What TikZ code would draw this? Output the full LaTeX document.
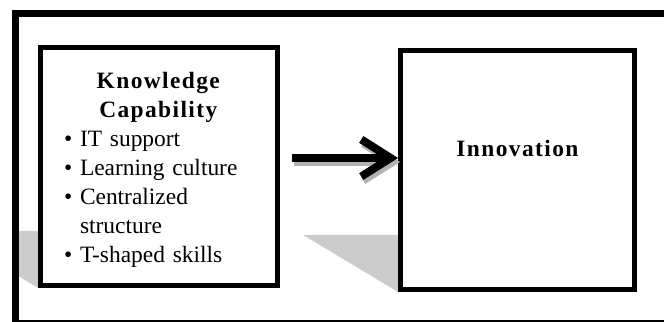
\documentclass[tikz,border=0pt]{standalone}
\usepackage{fontspec}
\setmainfont{Liberation Serif}[BoldFeatures={LetterSpace=6}]
\usepackage{tikz}
\usetikzlibrary{arrows.meta, backgrounds}

\newlength\pxunit
\setlength\pxunit{0.51215pt}

\begin{document}
\begin{tikzpicture}[x=0.018cm, y=-0.018cm,
    box/.style={draw, line width=5\pxunit, inner sep=0pt, fill=white,
        font=\fontsize{12}{14.8}\selectfont},
    shadowfill/.style={fill=black!20},
    flow/.style={line width=8\pxunit, -{Straight Barb[length=15pt, width=19pt]}}]
    % 画布范围
    \path[use as bounding box] (0,0) rectangle (664,322);
    \clip (0,0) rectangle (664,322);

    % 左侧方框:知识能力
    \node[box, minimum width=237\pxunit, minimum height=238\pxunit,
        text width=190\pxunit, align=left] (kc) at (159,166.5) {%
        {\centering\rule{0pt}{23\pxunit}\textbf{Knowledge}\\\textbf{Capability}\par}
        \makebox[16\pxunit][l]{\textbullet}IT support\\
        \makebox[16\pxunit][l]{\textbullet}Learning culture\\
        \makebox[16\pxunit][l]{\textbullet}Centralized\\
        \hspace*{16\pxunit}structure\\
        \makebox[16\pxunit][l]{\textbullet}T-shaped skills};

    % 右侧方框:创新
    \node[box, minimum width=234\pxunit, minimum height=239\pxunit,
        font=\fontsize{12}{14.8}\selectfont\bfseries,
        text height=16\pxunit, text depth=42\pxunit] (inn) at (517.5,170) {Innovation};

    % 方框左下方的阴影
    \begin{scope}[on background layer]
        \clip (15.5,13.5) rectangle (664,322);
        \fill[shadowfill] (kc.south west) -- ++(-95,-57) -- ++(95,0) -- cycle;
        \fill[shadowfill] (inn.south west) -- ++(-95,-57) -- ++(95,0) -- cycle;
    \end{scope}

    % 外框
    \draw[line width=7\pxunit] (15.5,13.5) rectangle (671,323.5);

    % 箭头(带阴影)
    \coordinate (arrowstart) at ([shift={(12.5,-8.5)}]kc.east);
    \coordinate (arrowend) at (inn.west |- arrowstart);
    \draw[flow, black!30] ([shift={(2,4)}]arrowstart) -- ([shift={(2,4)}]arrowend);
    \draw[flow] (arrowstart) -- (arrowend);
\end{tikzpicture}
\end{document}
